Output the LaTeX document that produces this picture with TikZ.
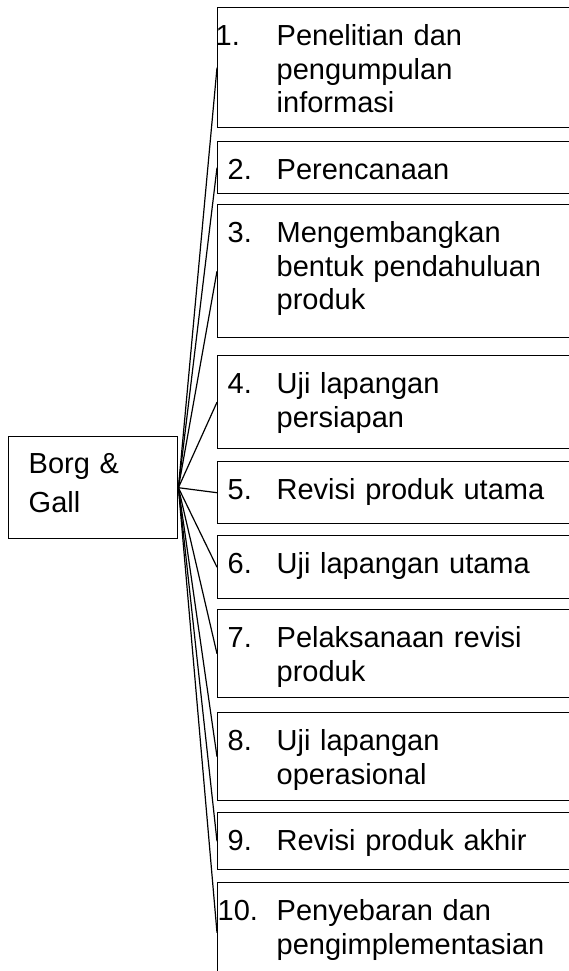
\documentclass[tikz,border=0pt]{standalone}
\usepackage{fontspec}
\setmainfont{Liberation Sans}

\tikzset{
    kotak/.style={draw, line width=1.4pt, anchor=north west, inner xsep=10pt, inner ysep=0pt,
        text width=360pt, align=left, text height=38pt, font=\fontsize{29}{33.5}\selectfont},
    garis/.style={line width=1.2pt},
}

\begin{document}
\begin{tikzpicture}[x=1pt,y=-1pt]
    \useasboundingbox (0,0) rectangle (569,971);
    \clip (0,0) rectangle (569,971);

    % akar
    \node[kotak, inner xsep=20pt, text width=129pt, text height=37pt, text depth=65pt,
        font=\fontsize{29}{39}\selectfont] (bg) at (8,436) {Borg \&\\Gall};

    % langkah 1-10: nomor/atas/tinggi/geser/isi
    \foreach \n/\y/\h/\g/\isi in {
        1/7/120/-12/{Penelitian dan\\pengumpulan\\informasi},
        2/141/52/0/{Perencanaan},
        3/204/133/0/{Mengembangkan\\bentuk pendahuluan\\produk},
        4/355/93/0/{Uji lapangan\\persiapan},
        5/461/62/0/{Revisi produk utama},
        6/535/63/0/{Uji lapangan utama},
        7/609/88/0/{Pelaksanaan revisi\\produk},
        8/712/88/0/{Uji lapangan\\operasional},
        9/812/57/0/{Revisi produk akhir},
        10/882/100/-10/{Penyebaran dan\\pengimplementasian}}{
        \pgfmathsetmacro{\dd}{\h-38}
        \node[kotak, text depth=\dd pt] (s\n) at (217,\y)
            {\makebox[49pt][l]{\hspace*{\g pt}\n.}\parbox[t]{300pt}{\raggedright\isi}};
    }

    \foreach \n in {1,...,10}{
        \draw[garis] (bg.east) -- (s\n.west);
    }
\end{tikzpicture}
\end{document}
